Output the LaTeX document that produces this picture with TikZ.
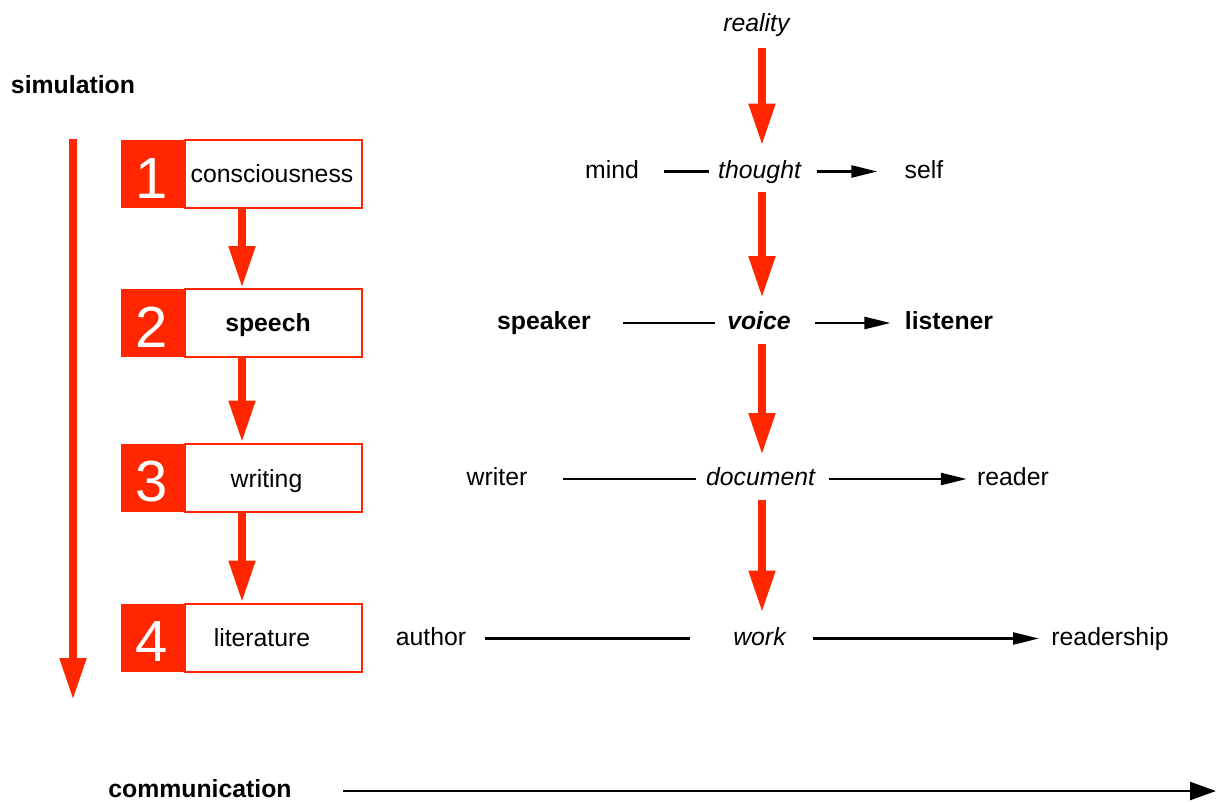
\documentclass[tikz,border=0pt]{standalone}
\usepackage{fontspec}
\setmainfont{Liberation Sans}
\usetikzlibrary{arrows.meta, positioning}
\definecolor{signalred}{RGB}{255,38,0}

\begin{document}
\begin{tikzpicture}[x=0.5pt, y=-0.5pt,
    every node/.style={font=\fontsize{12.4}{15}\selectfont, inner sep=0pt,
      text height=9pt, text depth=2.5pt},
    numbox/.style={fill=signalred, text=white, minimum width=31.5pt,
      minimum height=34pt, font=\fontsize{29}{30}\selectfont,
      text height=24pt, text depth=0pt},
    stepbox/.style={draw=signalred, line width=1pt, fill=white,
      minimum width=88.5pt, minimum height=34pt},
    redflow/.style={draw=signalred, line width=4pt,
      -{Triangle[length=21pt, width=12.5pt]}},
    link/.style={line width=1.2pt},
    flow/.style={link, -{Triangle[length=13pt, width=6pt]}},
    bigflow/.style={link, -{Triangle[length=13pt, width=9pt]}}]
    %\draw[help lines, step=100] (0, 0) grid (1217, 803);
    \useasboundingbox (0, 0) rectangle (1217, 803);

    % left column: the four steps
    \node (simulation) at (73, 86.5) {\textbf{simulation}};
    \coordinate (simend) at (73, 700);
    \draw[redflow, shorten <=26pt] (simulation.center) -- (simend);

    \node[stepbox] (lab1) at (273.5, 174) {};
    \node[stepbox] (lab2) at (273.5, 323) {};
    \node[stepbox] (lab3) at (273.5, 477.5) {};
    \node[stepbox] (lab4) at (273.5, 637.5) {};

    \node[numbox, left=0pt of lab1] (num1) {1};
    \node[numbox, left=0pt of lab2] (num2) {2};
    \node[numbox, left=0pt of lab3] (num3) {3};
    \node[numbox, left=0pt of lab4] (num4) {4};

    \node at ([xshift=-0.75pt, yshift=-1pt]lab1.center) (txt1) {consciousness};
    \node at ([xshift=-2.75pt, yshift=-1pt]lab2.center) (txt2) {\textbf{speech}};
    \node at ([xshift=-3.5pt, yshift=-1.5pt]lab3.center) (txt3) {writing};
    \node at ([xshift=-5.75pt, yshift=-1pt]lab4.center) (txt4) {literature};

    \draw[redflow] ([xshift=-15.75pt]lab1.south) -- ([xshift=-15.75pt]lab2.north);
    \draw[redflow] ([xshift=-15.75pt]lab2.south) -- ([xshift=-15.75pt]lab3.north);
    \draw[redflow] ([xshift=-15.75pt]lab3.south) -- ([xshift=-15.75pt]lab4.north);

    % right column: the media
    \node (reality) at (757, 25.5) {\textit{reality}};
    \node (thought) at (760, 171.5) {\textit{thought}};
    \node (voice) at (759, 323) {\textbf{\textit{voice}}};
    \node (document) at (761, 479) {\textit{document}};
    \node (work) at (760, 638.5) {\textit{work}};

    \draw[redflow, shorten <=11pt, shorten >=13pt] ([xshift=2.5pt]reality.center) -- ([xshift=1pt]thought.center);
    \draw[redflow, shorten <=10pt, shorten >=12.5pt] ([xshift=1pt]thought.center) -- ([xshift=1.5pt]voice.center);
    \draw[redflow, shorten <=10.5pt, shorten >=12pt] ([xshift=1.5pt]voice.center) -- ([xshift=0.5pt]document.center);
    \draw[redflow, shorten <=10.5pt, shorten >=13pt] ([xshift=0.5pt]document.center) -- ([xshift=1pt]work.center);

    \node (mind) at (612, 171.5) {mind};
    \node (self) at (924, 171.5) {self};
    \node (speaker) at (544, 323) {\textbf{speaker}};
    \node (listener) at (949, 323) {\textbf{listener}};
    \node (writer) at (497, 479) {writer};
    \node (reader) at (1013, 479) {reader};
    \node (author) at (431, 638.5) {author};
    \node (readership) at (1110, 638.5) {readership};

    \draw[link, shorten <=12.5pt, shorten >=4.5pt] (mind) -- (thought);
    \draw[flow, shorten <=7.5pt, shorten >=13.5pt] (thought) -- (self);
    \draw[link, shorten <=16pt, shorten >=6pt] (speaker) -- (voice);
    \draw[flow, shorten <=12pt, shorten >=7pt] (voice) -- (listener);
    \draw[link, shorten <=17.5pt, shorten >=5pt] (writer) -- (document);
    \draw[flow, shorten <=6.5pt, shorten >=5pt] (document) -- (reader);
    \draw[link, shorten <=9pt, shorten >=21.5pt] (author) -- (work);
    \draw[flow, shorten <=13pt, shorten >=6pt] (work) -- (readership);

    % bottom axis
    \node (communication) at (200, 791) {\textbf{communication}};
    \coordinate (commend) at (1216, 791);
    \draw[bigflow, shorten <=71.5pt] (communication.center) -- (commend);

  \end{tikzpicture}
\end{document}
